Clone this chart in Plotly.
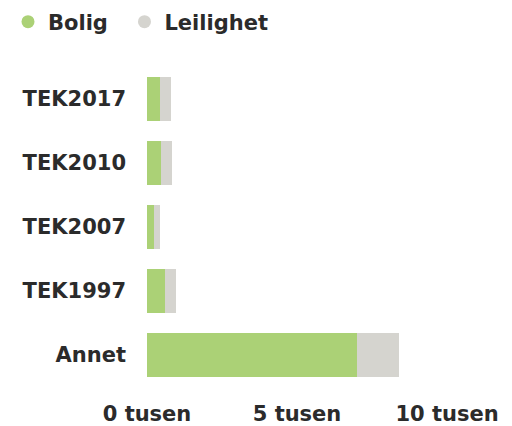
import plotly.graph_objects as go

categories = ["TEK2017", "TEK2010", "TEK2007", "TEK1997", "Annet"]
bolig = [430, 470, 230, 600, 7000]
leilighet = [370, 360, 200, 370, 1400]
tick_vals = [0, 5000, 10000]
tick_text = ["0 tusen", "5 tusen", "10 tusen"]

green = "#abd176"
grey = "#d5d4cf"
font_family = "DejaVu Sans"
text_color = "#2b2b2b"

fig = go.Figure()
fig.add_trace(go.Bar(y=categories, x=bolig, orientation="h", name="Bolig",
                     marker=dict(color=green, line=dict(width=0)), showlegend=False))
fig.add_trace(go.Bar(y=categories, x=leilighet, orientation="h", name="Leilighet",
                     marker=dict(color=grey, line=dict(width=0)), showlegend=False))
# legend entries with round markers
fig.add_trace(go.Scatter(x=[None], y=[None], mode="markers", name="Bolig",
                         marker=dict(color=green, size=13, symbol="circle"),
                         legend="legend"))
fig.add_trace(go.Scatter(x=[None], y=[None], mode="markers", name="Leilighet",
                         marker=dict(color=grey, size=13, symbol="circle"),
                         legend="legend2"))

legend_font = dict(family=font_family, size=21, color=text_color, weight="bold")

fig.update_layout(
    width=504, height=418,
    margin=dict(l=139, r=5, t=59, b=39),
    paper_bgcolor="white", plot_bgcolor="white",
    barmode="stack", bargap=0.31,
    font=dict(family=font_family, size=21, color=text_color),
    showlegend=True,
    legend=dict(orientation="h", x=-0.011, y=0.9665, xanchor="left", yanchor="middle",
                xref="container", yref="container",
                font=legend_font, itemclick=False, itemdoubleclick=False),
    legend2=dict(orientation="h", x=0.2311, y=0.9665, xanchor="left", yanchor="middle",
                 xref="container", yref="container",
                 font=legend_font, itemclick=False, itemdoubleclick=False),
    xaxis=dict(range=[0, 12000], tickvals=tick_vals, ticktext=tick_text,
               showgrid=False, zeroline=False, showline=False, ticks="",
               ticklabelstandoff=12, automargin=False,
               tickfont=dict(family=font_family, size=21, color=text_color, weight="bold")),
    yaxis=dict(categoryorder="array", categoryarray=categories, autorange="reversed",
               showgrid=False, zeroline=False, showline=False, ticks="",
               ticklabelstandoff=20, automargin=False,
               tickfont=dict(family=font_family, size=21, color=text_color, weight="bold")),
)
fig.write_html("out.html")
